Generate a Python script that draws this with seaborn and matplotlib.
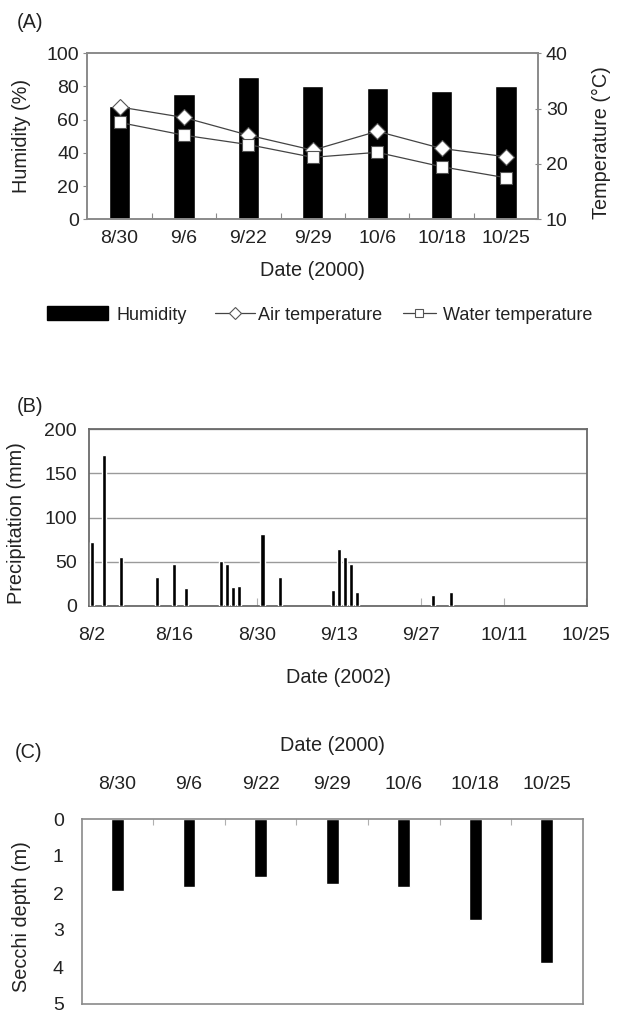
import numpy as np
import pandas as pd
import matplotlib
matplotlib.use("Agg")
import matplotlib.pyplot as plt
import seaborn as sns
from matplotlib.lines import Line2D
from matplotlib.patches import Patch
from matplotlib.ticker import FixedLocator

# ---------------- data ----------------
dates_a = ['8/30', '9/6', '9/22', '9/29', '10/6', '10/18', '10/25']
humidity = [68, 75.5, 85.5, 80.5, 79, 77, 80.5]
air_temp = [30.3, 28.4, 25.2, 22.5, 25.9, 22.8, 21.3]
water_temp = [27.5, 25.2, 23.5, 21.2, 22.1, 19.5, 17.5]

precip_day = [0, 2, 5, 11, 14, 16, 22, 23, 24, 25, 29, 32, 41, 42, 43, 44, 45, 58, 61]
precip_mm = [73, 171, 55, 33, 47, 20, 51, 47, 22, 23, 82, 33, 18, 64, 55, 47, 16, 13, 16]
precip_tick_days = [0, 14, 28, 42, 56, 70, 84]
precip_tick_labels = ['8/2', '8/16', '8/30', '9/13', '9/27', '10/11', '10/25']

dates_c = ['8/30', '9/6', '9/22', '9/29', '10/6', '10/18', '10/25']
secchi = [1.94, 1.85, 1.57, 1.76, 1.83, 2.73, 3.88]

legend_labels = ['Humidity', 'Air temperature', 'Water temperature']

# ---------------- style ----------------
sns.set_style("white")
plt.rcParams['font.family'] = ['Liberation Sans', 'DejaVu Sans']
TICK_FS = 14
LAB_FS = 14.3
LEG_FS = 13
FRAME = '#8a8a8a'
TXT = '#222222'

W, H = 623, 1016
fig = plt.figure(figsize=(W / 100, H / 100), dpi=100)


def axes_px(left, top, right, bottom):
    return fig.add_axes([left / W, 1 - bottom / H, (right - left) / W, (bottom - top) / H])


# ---------------- panel A ----------------
axA = axes_px(87.3, 53.3, 538.3, 219.3)
dfA = pd.DataFrame({'date': dates_a, 'humidity': humidity,
                    'air': air_temp, 'water': water_temp})
sns.barplot(data=dfA, x='date', y='humidity', color='black', width=0.33,
            saturation=1, errorbar=None, ax=axA, zorder=2)
axA.set_ylim(0, 100)
axA.set_yticks([0, 20, 40, 60, 80, 100])
axA.set_xlim(-0.5, 6.5)
axA.tick_params(axis='y', direction='out', length=3, width=0.8, color=FRAME,
                labelsize=TICK_FS, pad=3, labelcolor=TXT)
axA.tick_params(axis='x', which='major', length=0, labelsize=TICK_FS, pad=8,
                labelcolor=TXT)
axA.xaxis.set_minor_locator(FixedLocator(np.arange(0.5, 6.5, 1)))
axA.tick_params(axis='x', which='minor', direction='in', length=4, width=0.8,
                color=FRAME, bottom=True)
axA.set_xlabel('Date (2000)', fontsize=LAB_FS, color=TXT)
axA.set_ylabel('Humidity (%)', fontsize=LAB_FS, color=TXT)
axA.xaxis.set_label_coords(0.5, -0.25)
axA.yaxis.set_label_coords(-0.125, 0.5)
for s in axA.spines.values():
    s.set_color(FRAME)
    s.set_linewidth(1.2)

axA2 = axA.twinx()
line_kw = dict(color='#444444', linewidth=0.9, markerfacecolor='white',
               markeredgecolor='#555555', markeredgewidth=0.8)
sns.pointplot(data=dfA, x='date', y='air', ax=axA2, markers='D',
              markersize=8.5, errorbar=None, **line_kw)
sns.pointplot(data=dfA, x='date', y='water', ax=axA2, markers='s',
              markersize=8, errorbar=None, **line_kw)
axA2.set_ylim(10, 40)
axA2.set_yticks([10, 20, 30, 40])
axA2.set_xlim(-0.5, 6.5)
axA2.tick_params(axis='y', direction='inout', length=5, width=0.8, color=FRAME,
                 labelsize=TICK_FS, pad=3, labelcolor=TXT)
axA2.set_ylabel('Temperature (\u00b0C)', fontsize=LAB_FS, color=TXT)
axA2.yaxis.set_label_coords(1.118, 0.46)
axA2.set_xlabel('')
for s in axA2.spines.values():
    s.set_color(FRAME)
    s.set_linewidth(1.2)
axA2.grid(False)

# legend: three separate entries so each handle can have its own length
leg_handles = [Patch(facecolor='black', edgecolor='black'),
               Line2D([0], [0], color='#444444', lw=0.9, marker='D', ms=6,
                      mfc='white', mec='#555555', mew=0.8),
               Line2D([0], [0], color='#444444', lw=0.9, marker='s', ms=6,
                      mfc='white', mec='#555555', mew=0.8)]
leg_x = [47, 215, 403]
leg_hlen = [3.38, 2.2, 1.8]
leg_pad = [0.45, 0.2, 0.4]
leg_y = 1 - 315 / H
for h, lab, x0, hl, tp in zip(leg_handles, legend_labels, leg_x, leg_hlen, leg_pad):
    fig.legend(handles=[h], labels=[lab], loc='center left',
               bbox_to_anchor=(x0 / W, leg_y), frameon=False, borderpad=0,
               borderaxespad=0, handlelength=hl, handleheight=0.8,
               handletextpad=tp, fontsize=LEG_FS, labelcolor=TXT)

fig.text(30 / W, 1 - 23 / H, '(A)', fontsize=LAB_FS, ha='center', va='center', color=TXT)

# ---------------- panel B ----------------
axB = axes_px(89.3, 429.3, 586.7, 606.0)
dfB = pd.DataFrame({'day': precip_day, 'mm': precip_mm})
axB.yaxis.grid(True, color='#9a9a9a', linewidth=1.0, zorder=0)
axB.set_axisbelow(True)
sns.barplot(data=dfB, x='day', y='mm', native_scale=True, color='black',
            width=0.7, saturation=1, errorbar=None, ax=axB, zorder=3)
axB.set_xlim(-0.45, 84.1)
axB.set_ylim(0, 200)
axB.set_yticks([0, 50, 100, 150, 200])
axB.set_xticks(precip_tick_days)
axB.set_xticklabels(precip_tick_labels)
axB.tick_params(axis='x', direction='in', length=6, width=0.8, color='#b0b0b0',
                labelsize=TICK_FS, pad=15, labelcolor=TXT, bottom=True)
axB.tick_params(axis='y', length=0, labelsize=TICK_FS, pad=9, labelcolor=TXT)
axB.set_xlabel('Date (2002)', fontsize=LAB_FS, color=TXT)
axB.set_ylabel('Precipitation (mm)', fontsize=LAB_FS, color=TXT)
axB.xaxis.set_label_coords(0.5, -0.35)
axB.yaxis.set_label_coords(-0.127, 0.47)
for s in axB.spines.values():
    s.set_color('#6a6a6a')
    s.set_linewidth(1.3)

fig.text(30 / W, 1 - 406 / H, '(B)', fontsize=LAB_FS, ha='center', va='center', color=TXT)

# ---------------- panel C ----------------
axC = axes_px(81.7, 819.0, 582.7, 1004.0)
dfC = pd.DataFrame({'date': dates_c, 'depth': secchi})
sns.barplot(data=dfC, x='date', y='depth', color='black', width=0.18,
            saturation=1, errorbar=None, ax=axC, zorder=2)
axC.set_ylim(5, 0)
axC.set_yticks([0, 1, 2, 3, 4, 5])
axC.set_xlim(-0.5, 6.5)
axC.xaxis.tick_top()
axC.xaxis.set_label_position('top')
axC.tick_params(axis='x', which='major', length=0, labelsize=TICK_FS, pad=19,
                labelcolor=TXT, top=True, bottom=False)
axC.xaxis.set_minor_locator(FixedLocator(np.arange(0.5, 6.5, 1)))
axC.tick_params(axis='x', which='minor', direction='in', length=4, width=0.8,
                color='#b0b0b0', top=True, bottom=False)
axC.tick_params(axis='y', direction='in', length=4, width=0.8, color='#b0b0b0',
                labelsize=TICK_FS, pad=13, labelcolor=TXT)
axC.set_xlabel('Date (2000)', fontsize=LAB_FS, color=TXT)
axC.set_ylabel('Secchi depth (m)', fontsize=LAB_FS, color=TXT)
axC.xaxis.set_label_coords(0.5, 1.37)
axC.yaxis.set_label_coords(-0.101, 0.47)
for s in axC.spines.values():
    s.set_color(FRAME)
    s.set_linewidth(1.2)

fig.text(29 / W, 1 - 752 / H, '(C)', fontsize=LAB_FS, ha='center', va='center', color=TXT)

fig.savefig('out.png', dpi=100, facecolor='white')
